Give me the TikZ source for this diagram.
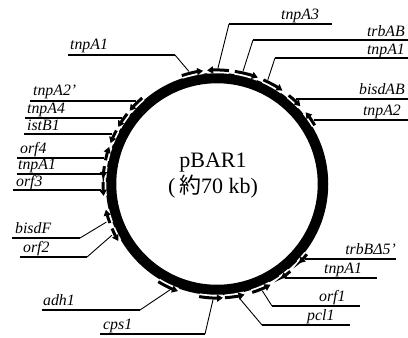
\documentclass[tikz,border=0pt]{standalone}
\usepackage{fontspec}
\setmainfont{Liberation Serif}
\newfontfamily\cjkfont{Noto Sans CJK JP}
\usetikzlibrary{arrows.meta,calc}
\newcommand\genearc[2]{\draw[gene] ($(C)+(#1:114pt)$) arc[start angle=#1,end angle=#2,radius=114pt];}
\newcommand\lcoord[2]{\coordinate (#1) at ({217-sqrt(116^2-(#2-184)^2)},#2);}
\newcommand\rcoord[2]{\coordinate (#1) at ({217+sqrt(116^2-(#2-184)^2)},#2);}
\begin{document}
\begin{tikzpicture}[x=1pt,y=-1pt,
  gene/.style={line width=3pt,-{Triangle[length=6pt,width=7pt]},
    preaction={draw=white,line width=6.5pt,arrows=-}},
  lbl/.style={line width=1.1pt},
  ldr/.style={line width=0.9pt},
  lab/.style={font=\fontsize{15.8}{18}\selectfont\itshape,inner sep=0pt,anchor=base west},
  labr/.style={lab,anchor=base east},
  ctr/.style={font=\fontsize{22}{26}\selectfont,inner sep=0pt,anchor=base}]
\useasboundingbox (0,0) rectangle (408,338);
\coordinate (C) at (217,184);
% plasmid ring
\draw[line width=10.5pt] (C) circle[radius=106pt];
\node[ctr] (name) at (213,167) {pBAR1};
\node[ctr] (size) at (213,193) {(\,{\cjkfont 約}70 kb)};
% gene arrows
\genearc{108}{97}   % tnpA1 TL
\genearc{84}{95}    % tnpA3
\genearc{81}{69}    % trbAB
\genearc{66}{55}    % tnpA1 TR
\genearc{51}{43}    % bisdAB
\genearc{31}{39}    % tnpA2
\genearc{-38}{-44}  % trbB d5'
\genearc{-50}{-56}  % tnpA1 LR
\genearc{-72}{-62}  % orf1
\genearc{-86}{-76}  % pcl1
\genearc{-99}{-87}  % cps1
\genearc{-121}{-110}% adh1
\genearc{203}{210}  % orf2
\genearc{200}{193}  % bisdF
\genearc{179}{186}  % orf3
\genearc{171}{177}  % tnpA1 L
\genearc{168}{161}  % orf4
\genearc{152}{159}  % istB1
\genearc{142}{150}  % tnpA4
\genearc{131}{140}  % tnpA2'
% connector points on the genes
\coordinate (gTLa) at ($(C)+(104:116pt)$);
\coordinate (gA3) at ($(C)+(89.5:116pt)$);
\coordinate (gAB) at ($(C)+(77:116pt)$);
\coordinate (gTRa) at ($(C)+(64:116pt)$);
\coordinate (gO1) at ($(C)+(-67:116pt)$);
\coordinate (gP1) at ($(C)+(-79:116pt)$);
\coordinate (gC1) at ($(C)+(-92:116pt)$);
\coordinate (gAd) at ($(C)+(-114:116pt)$);
\coordinate (gO2) at ($(C)+(206:117pt)$);
\coordinate (gBF) at ($(C)+(199:117pt)$);
% left labels with direct lines
\coordinate (a1) at (30,101);  \lcoord{b1}{101}
\coordinate (a2) at (25,118);  \lcoord{b2}{118}
\coordinate (a3) at (24,134);  \lcoord{b3}{134}
\coordinate (a4) at (17,158);  \lcoord{b4}{158}
\coordinate (a5) at (17,174);  \lcoord{b5}{174}
\coordinate (a6) at (13,190);  \lcoord{b6}{190}
\draw[lbl] (a1) -- (b1); \node[lab] (t1) at (33,95) {tnpA2’};
\draw[lbl] (a2) -- (b2); \node[lab] (t2) at (27,113) {tnpA4};
\draw[lbl] (a3) -- (b3); \node[lab] (t3) at (27,130) {istB1};
\draw[lbl] (a4) -- (b4); \node[lab] (t4) at (20,153) {orf4};
\draw[lbl] (a5) -- (b5); \node[lab] (t5) at (18,169) {tnpA1};
\draw[lbl] (a6) -- (b6); \node[lab] (t6) at (16,186) {orf3};
% left labels with leaders
\coordinate (a7) at (12,238);  \coordinate (b7) at (80,238);
\draw[lbl] (a7) -- (b7); \draw[ldr] (b7) -- (gBF); \node[lab] (t7) at (15,233) {bisdF};
\coordinate (a8) at (20,257);  \coordinate (b8) at (87,257);
\draw[lbl] (a8) -- (b8); \draw[ldr] (b8) -- (gO2); \node[lab] (t8) at (23,252) {orf2};
\coordinate (a9) at (42,310);  \coordinate (b9) at (140,310);
\draw[lbl] (a9) -- (b9); \draw[ldr] (b9) -- (gAd); \node[lab] (t9) at (43,305) {adh1};
\coordinate (a10) at (100,334); \coordinate (b10) at (205,334);
\draw[lbl] (a10) -- (b10); \draw[ldr] (b10) -- (gC1); \node[lab] (t10) at (103,329) {cps1};
% top labels
\coordinate (a11) at (68,55); \coordinate (b11) at (175,55);
\draw[lbl] (a11) -- (b11); \draw[ldr] (b11) -- (gTLa); \node[lab] (t11) at (70,49) {tnpA1};
\coordinate (a12) at (229,24); \coordinate (b12) at (332,24);
\draw[lbl] (a12) -- (b12); \draw[ldr] (a12) -- (gA3); \node[lab] (t12) at (281,19) {tnpA3};
\coordinate (a13) at (253,40); \coordinate (b13) at (408,40);
\draw[lbl] (a13) -- (b13); \draw[ldr] (a13) -- (gAB); \node[labr] (t13) at (405,36) {trbAB};
\coordinate (a14) at (275,58); \coordinate (b14) at (408,58);
\draw[lbl] (a14) -- (b14); \draw[ldr] (a14) -- (gTRa); \node[labr] (t14) at (405,54) {tnpA1};
% right labels with direct lines
\rcoord{a15}{99}  \coordinate (b15) at (408,99);
\draw[lbl] (a15) -- (b15); \node[labr] (t15) at (405,94) {bisdAB};
\rcoord{a16}{120} \coordinate (b16) at (408,120);
\draw[lbl] (a16) -- (b16); \node[labr] (t16) at (401,115) {tnpA2};
\rcoord{a17}{259} \coordinate (b17) at (396,259);
\draw[lbl] (a17) -- (b17); \node[labr] (t17) at (396,254) {trbBΔ5’};
\rcoord{a18}{278} \coordinate (b18) at (377,278);
\draw[lbl] (a18) -- (b18); \node[lab] (t18) at (324,273) {tnpA1};
% lower right with leaders
\coordinate (a19) at (272,306); \coordinate (b19) at (360,306);
\draw[lbl] (a19) -- (b19); \draw[ldr] (a19) -- (gO1); \node[lab] (t19) at (319,301) {orf1};
\coordinate (a20) at (262,325); \coordinate (b20) at (350,325);
\draw[lbl] (a20) -- (b20); \draw[ldr] (a20) -- (gP1); \node[lab] (t20) at (307,320) {pcl1};
\end{tikzpicture}
\end{document}
